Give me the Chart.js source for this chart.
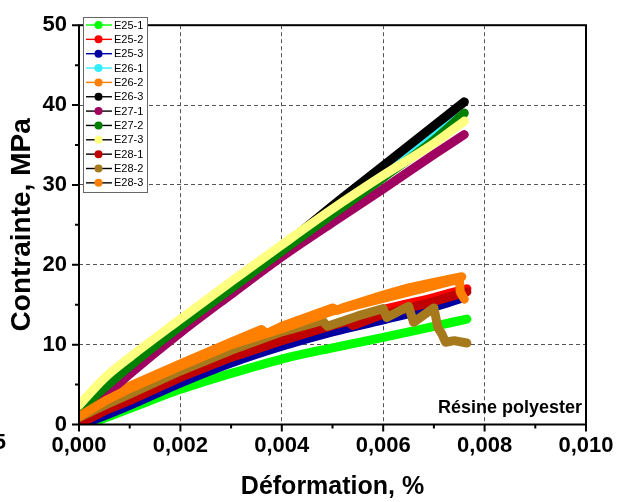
<!DOCTYPE html>
<html>
<head>
<meta charset="utf-8">
<script src="https://cdn.jsdelivr.net/npm/chart.js@4.4.0/dist/chart.umd.min.js"></script>
<style>
  html, body { margin: 0; padding: 0; background: #fff; }
  canvas { display: block; }
</style>
</head>
<body>
<canvas id="traction" width="622" height="502"></canvas>
<script>
// Essais de traction - éprouvettes en résine polyester
const seriesNames = ['E25-1', 'E25-2', 'E25-3', 'E26-1', 'E26-2', 'E26-3',
                     'E27-1', 'E27-2', 'E27-3', 'E28-1', 'E28-2', 'E28-3'];
const seriesColors = ['#00FF00', '#FF0000', '#0000A0', '#33EEFF', '#FF8000', '#000000',
                      '#A0005F', '#008000', '#FFFF80', '#C00000', '#A67A1C', '#FF8000'];
const legendLineColors = ['#00FF00', '#FF0000', '#0000A0', '#33EEFF', '#FF8000', '#000000',
                          '#000000', '#000000', '#000000', '#000000', '#000000', '#000000'];
// courbes avec ruptures partielles : tracées en segments droits
const brokenSeries = ['E26-2', 'E28-1', 'E28-2', 'E28-3'];

// déformation (%) / contrainte (MPa)
const e25_1_strain = [0.0002, 0.0005, 0.001, 0.002, 0.003, 0.004, 0.005, 0.006, 0.007, 0.00765];
const e25_1_stress = [0, 0.8, 2.0, 4.4, 6.4, 8.2, 9.6, 10.9, 12.3, 13.2];
const e25_2_strain = [0.0001, 0.0005, 0.001, 0.002, 0.003, 0.004, 0.005, 0.006, 0.007, 0.00765];
const e25_2_stress = [0.2, 1.4, 2.8, 5.7, 8.2, 10.3, 12.4, 14.4, 15.9, 17.0];
const e25_3_strain = [0.0001, 0.0005, 0.001, 0.002, 0.003, 0.004, 0.005, 0.006, 0.007, 0.00755];
const e25_3_stress = [0.1, 1.1, 2.4, 5.2, 7.7, 9.8, 11.6, 13.1, 14.7, 15.8];
const e26_1_strain = [0, 0.0005, 0.001, 0.002, 0.003, 0.004, 0.005, 0.006, 0.007, 0.0074];
const e26_1_stress = [1.4, 4.6, 7.2, 12.4, 17.2, 21.9, 26.8, 31.7, 36.9, 39.4];
const e26_2_strain = [0, 0.0005, 0.001, 0.002, 0.003, 0.0036, 0.0037, 0.004, 0.005, 0.0051, 0.0052, 0.006, 0.0065, 0.007, 0.00755];
const e26_2_stress = [1.4, 3.2, 4.8, 7.6, 10.3, 11.9, 11.4, 12.3, 14.6, 14.3, 14.6, 16.2, 17.1, 17.8, 18.5];
const e26_3_strain = [0, 0.0005, 0.001, 0.002, 0.003, 0.004, 0.005, 0.006, 0.007, 0.0076];
const e26_3_stress = [1.5, 4.8, 7.4, 12.6, 17.4, 22.2, 27.4, 32.4, 37.4, 40.4];
const e27_1_strain = [0.0002, 0.0005, 0.001, 0.002, 0.003, 0.004, 0.005, 0.006, 0.007, 0.0076];
const e27_1_stress = [0.8, 3.4, 6.3, 11.5, 16.3, 21.0, 25.3, 29.5, 33.8, 36.3];
const e27_2_strain = [0, 0.0005, 0.001, 0.002, 0.003, 0.004, 0.005, 0.006, 0.007, 0.0076];
const e27_2_stress = [1.8, 4.6, 7.3, 12.3, 17.0, 21.7, 26.3, 30.9, 35.6, 39.0];
const e27_3_strain = [0, 0.0005, 0.001, 0.002, 0.003, 0.004, 0.005, 0.006, 0.007, 0.0076];
const e27_3_stress = [2.4, 5.8, 8.4, 13.2, 17.9, 22.5, 27.0, 31.2, 35.2, 38.0];
const e28_1_strain = [0.0001, 0.0005, 0.001, 0.002, 0.003, 0.004, 0.005, 0.0053, 0.0054, 0.006, 0.007, 0.00765];
const e28_1_stress = [0.4, 1.7, 3.0, 5.9, 8.4, 10.5, 12.4, 12.9, 12.4, 13.8, 15.4, 16.6];
const e28_2_strain = [0, 0.0005, 0.001, 0.002, 0.003, 0.004, 0.0048, 0.0049, 0.0055, 0.006, 0.00607,
                      0.0065, 0.0066, 0.007, 0.00708, 0.00716, 0.00723, 0.0074, 0.00765];
const e28_2_stress = [0.9, 2.4, 3.8, 6.7, 9.3, 11.6, 13.0, 12.3, 13.6, 14.5, 13.4,
                      14.8, 12.8, 14.6, 12.1, 11.3, 10.3, 10.5, 10.2];
const e28_3_strain = [0, 0.0005, 0.001, 0.002, 0.003, 0.004, 0.005, 0.006, 0.007, 0.0075, 0.00752, 0.0076];
const e28_3_stress = [1.0, 2.9, 4.5, 7.3, 10.0, 12.0, 14.2, 15.8, 17.4, 18.2, 16.6, 15.7];

const strainSeries = [e25_1_strain, e25_2_strain, e25_3_strain, e26_1_strain, e26_2_strain, e26_3_strain,
                      e27_1_strain, e27_2_strain, e27_3_strain, e28_1_strain, e28_2_strain, e28_3_strain];
const stressSeries = [e25_1_stress, e25_2_stress, e25_3_stress, e26_1_stress, e26_2_stress, e26_3_stress,
                      e27_1_stress, e27_2_stress, e27_3_stress, e28_1_stress, e28_2_stress, e28_3_stress];

// graduations (majeures tous les deux pas)
const strainTicks = [0, 0.001, 0.002, 0.003, 0.004, 0.005, 0.006, 0.007, 0.008, 0.009, 0.010];
const stressTicks = [0, 5, 10, 15, 20, 25, 30, 35, 40, 45, 50];

const FONT = "'Liberation Sans', Arial, sans-serif";
Chart.defaults.font.family = FONT;
Chart.defaults.color = '#000';

const datasets = seriesNames.map((name, i) => ({
    label: name,
    data: strainSeries[i].map((x, k) => ({ x: x, y: stressSeries[i][k] })),
    borderColor: seriesColors[i],
    backgroundColor: seriesColors[i],
    borderWidth: 9,
    borderCapStyle: 'round',
    borderJoinStyle: 'round',
    cubicInterpolationMode: brokenSeries.includes(name) ? 'default' : 'monotone',
    tension: 0,
    pointRadius: 0,
    fill: false,
    order: seriesNames.length - i   // last series painted on top
}));

function gridColor(ctx) {
    const i = ctx.index;
    return (i % 2 === 0 && i > 0 && i < 10) ? '#555555' : 'rgba(0,0,0,0)';
}

// frame, tick marks, legend box and caption
const decorations = {
    id: 'decorations',
    afterDraw(chart) {
        const ctx = chart.ctx;
        const area = chart.chartArea;
        const xs = chart.scales.x, ys = chart.scales.y;
        ctx.save();
        ctx.strokeStyle = '#000';
        ctx.lineWidth = 2;
        ctx.beginPath();
        strainTicks.forEach((v, i) => {
            const px = xs.getPixelForValue(v);
            const len = i % 2 === 0 ? 7 : 4;
            ctx.moveTo(px, area.bottom);
            ctx.lineTo(px, area.bottom + len);
        });
        stressTicks.forEach((v, i) => {
            const py = ys.getPixelForValue(v);
            const len = i % 2 === 0 ? 7 : 4;
            ctx.moveTo(area.left, py);
            ctx.lineTo(area.left - len, py);
        });
        ctx.stroke();
        ctx.strokeRect(area.left, area.top, area.right - area.left, area.bottom - area.top);

        // caption
        ctx.fillStyle = '#000';
        ctx.font = 'bold 18px ' + FONT;
        ctx.textAlign = 'right';
        ctx.textBaseline = 'middle';
        ctx.fillText('Résine polyester', area.right - 4, 408);
        ctx.font = 'bold 22px ' + FONT;
        ctx.fillText('5', 6, 443);

        // legend
        const lx = 83.5, ly = 17.5, lw = 64, lh = 175, step = 14.35;
        ctx.fillStyle = '#fff';
        ctx.fillRect(lx, ly, lw, lh);
        ctx.lineWidth = 1;
        ctx.strokeStyle = '#666';
        ctx.strokeRect(lx, ly, lw, lh);
        ctx.font = '11px ' + FONT;
        ctx.textAlign = 'left';
        seriesNames.forEach((name, i) => {
            const y = 25 + i * step;
            ctx.strokeStyle = legendLineColors[i];
            ctx.lineWidth = 1.4;
            ctx.beginPath();
            ctx.moveTo(86, y);
            ctx.lineTo(112, y);
            ctx.stroke();
            ctx.fillStyle = seriesColors[i];
            ctx.beginPath();
            ctx.arc(98.5, y, 4, 0, Math.PI * 2);
            ctx.fill();
            ctx.fillStyle = '#000';
            ctx.fillText(name, 114, y + 0.5);
        });
        ctx.restore();
    }
};

new Chart(document.getElementById('traction'), {
    type: 'line',
    data: { datasets: datasets },
    options: {
        responsive: false,
        animation: false,
        devicePixelRatio: 1,
        layout: { padding: { left: 0, right: 36, top: 15, bottom: 0 } },
        plugins: { legend: { display: false }, tooltip: { enabled: false } },
        scales: {
            x: {
                type: 'linear',
                min: 0,
                max: 0.010,
                afterBuildTicks: s => { s.ticks = strainTicks.map(v => ({ value: v })); },
                afterFit: s => { s.height = 77.5; },
                ticks: {
                    autoSkip: false,
                    maxRotation: 0,
                    padding: 8,
                    font: { size: 22, weight: 'bold' },
                    callback: (v, i) => i % 2 === 0 ? v.toFixed(3).replace('.', ',') : ''
                },
                grid: { color: gridColor, lineWidth: 1, drawTicks: false },
                border: { display: false, dash: [4, 3] },
                title: {
                    display: true,
                    text: 'Déformation, %',
                    font: { size: 25, weight: 'bold' },
                    padding: { top: 0, bottom: 0 }
                }
            },
            y: {
                type: 'linear',
                min: 0,
                max: 50,
                afterBuildTicks: s => { s.ticks = stressTicks.map(v => ({ value: v })); },
                afterFit: s => { s.width = 79; },
                ticks: {
                    autoSkip: false,
                    padding: 12,
                    font: { size: 22, weight: 'bold' },
                    callback: (v, i) => i % 2 === 0 ? String(v) : ''
                },
                grid: { color: gridColor, lineWidth: 1, drawTicks: false },
                border: { display: false, dash: [4, 3] },
                title: {
                    display: true,
                    text: 'Contrainte, MPa',
                    font: { size: 28, weight: 'bold' },
                    padding: { top: 5, bottom: 0 }
                }
            }
        }
    },
    plugins: [decorations]
});
</script>
</body>
</html>
